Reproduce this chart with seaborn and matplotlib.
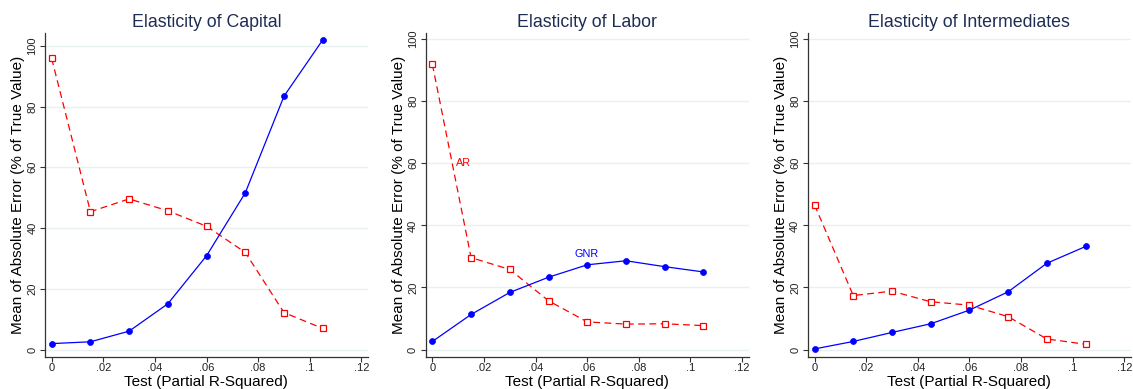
import matplotlib
matplotlib.use("Agg")
import matplotlib.pyplot as plt
import seaborn as sns
import pandas as pd

# Test strength (partial R-squared) used on the x axis
partial_r2 = [0.0, 0.015, 0.03, 0.045, 0.06, 0.075, 0.09, 0.105]

# Mean absolute error (% of true value), by elasticity
gnr_capital = [2.0, 2.6, 6.1, 15.1, 30.9, 51.6, 83.4, 101.9]
ar_capital = [95.8, 45.4, 49.6, 45.7, 40.6, 32.0, 12.2, 7.0]

gnr_labor = [2.6, 11.3, 18.4, 23.3, 27.3, 28.6, 26.7, 25.0]
ar_labor = [91.9, 29.6, 25.8, 15.7, 8.9, 8.2, 8.3, 7.7]

gnr_inter = [0.2, 2.6, 5.5, 8.3, 12.7, 18.6, 27.8, 33.2]
ar_inter = [46.6, 17.4, 18.8, 15.4, 14.3, 10.6, 3.4, 1.7]

titles = ["Elasticity of Capital", "Elasticity of Labor", "Elasticity of Intermediates"]
x_ticks = [0, 0.02, 0.04, 0.06, 0.08, 0.10, 0.12]
x_tick_labels = ["0", ".02", ".04", ".06", ".08", ".1", ".12"]
y_ticks = [0, 20, 40, 60, 80, 100]

sns.set_theme(style="white")
plt.rcParams["font.family"] = ["Liberation Sans", "DejaVu Sans"]

panels = [
    (titles[0], gnr_capital, ar_capital),
    (titles[1], gnr_labor, ar_labor),
    (titles[2], gnr_inter, ar_inter),
]

fig = plt.figure(figsize=(11.33, 3.89), dpi=100)

lefts = [0.0397, 0.3757, 0.7130]
ytops = [104.2, 102.0, 102.0]
title_color = "#1e2d53"
text_color = "#222222"
grid_color = "#e8f0f1"

for i, (title, gnr, ar) in enumerate(panels):
    ax = fig.add_axes([lefts[i], 0.0823, 0.285, 0.833])
    df = pd.DataFrame({"r2": partial_r2, "GNR": gnr, "AR": ar})

    for yv in y_ticks:
        ax.axhline(yv, color=grid_color, lw=1.0, zorder=0)

    sns.lineplot(data=df, x="r2", y="AR", ax=ax, color="red", lw=0.9,
                 linestyle=(0, (5.5, 3.5)), marker="s", markersize=4.3,
                 markerfacecolor="white", markeredgecolor="red",
                 markeredgewidth=0.9, zorder=3)
    sns.lineplot(data=df, x="r2", y="GNR", ax=ax, color="blue", lw=0.9,
                 marker="o", markersize=4.3, markerfacecolor="blue",
                 markeredgecolor="blue", markeredgewidth=0.5, zorder=4)

    ax.set_xlim(-0.0026, 0.1225)
    ax.set_ylim(-2.4, ytops[i])
    ax.set_xticks(x_ticks)
    ax.set_xticklabels(x_tick_labels)
    ax.set_yticks(y_ticks)
    ax.set_yticklabels([str(v) for v in y_ticks], rotation=90, va="center")
    ax.tick_params(axis="both", which="major", direction="out", length=3.5,
                   width=0.8, color="#333333", labelsize=8,
                   labelcolor=text_color, pad=1, left=True, bottom=True)
    ax.tick_params(axis="y", pad=2)

    for side in ["top", "right"]:
        ax.spines[side].set_visible(False)
    for side in ["left", "bottom"]:
        ax.spines[side].set_color("#333333")
        ax.spines[side].set_linewidth(0.9)

    ax.set_title(title, fontsize=12.8, color=title_color, pad=4.3)
    ax.set_xlabel("Test (Partial R-Squared)", fontsize=11, color="black", labelpad=1)
    ax.set_ylabel("Mean of Absolute Error (% of True Value)", fontsize=11,
                  color="black", labelpad=1.5)

    if i == 1:
        ax.text(0.0093, 60, "AR", color="red", fontsize=7.8, ha="left", va="center")
        ax.text(0.0597, 30.8, "GNR", color="blue", fontsize=7.8, ha="center", va="center")

fig.savefig("out.png", dpi=100, facecolor="white")
